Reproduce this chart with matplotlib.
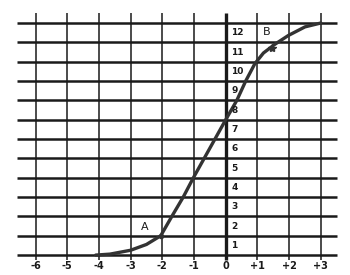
#!/usr/bin/env python3
"""S-shaped curve on a hand-ruled grid, points A and B marked."""
import matplotlib
matplotlib.use("Agg")
import matplotlib.pyplot as plt

X_TICKS = [-6, -5, -4, -3, -2, -1, 0, 1, 2, 3]
X_LABELS = ["-6", "-5", "-4", "-3", "-2", "-1", "0", "+1", "+2", "+3"]
Y_LEVELS = list(range(0, 13))
Y_LABELS = [str(v) for v in range(1, 13)]

# curve
CURVE_X = [-4.1, -3.65, -3.0, -2.5, -2.05, -1.7, -1.34, -1.02, -0.68, -0.34,
           0.0, 0.35, 0.63, 0.92, 1.19, 1.55, 1.97, 2.5, 3.0]
CURVE_Y = [0.0, 0.05, 0.25, 0.55, 1.0, 2.0, 3.0, 4.0, 5.0, 6.0,
           7.0, 8.0, 9.0, 9.9, 10.45, 10.9, 11.35, 11.8, 12.0]

POINT_A = (-2.05, 1.0)
POINT_B = (1.45, 10.7)

INK = "#1a1a1a"


def main():
    fig = plt.figure(figsize=(3.5, 2.75), dpi=100)
    ax = fig.add_axes([0, 0, 1, 1])
    ax.set_xlim(-7.12, 3.92)
    ax.set_ylim(-1.03, 13.19)
    ax.axis("off")

    ax.hlines(Y_LEVELS, -6.58, 3.5, color=INK, linewidth=1.8)
    ax.vlines([x for x in X_TICKS if x != 0], -0.25, 12.5, color=INK, linewidth=1.1)
    ax.vlines([0], -0.25, 12.5, color=INK, linewidth=2.4)

    ax.plot(CURVE_X, CURVE_Y, color="#333333", linewidth=2.4,
            solid_capstyle="round", solid_joinstyle="round")
    ax.plot(*POINT_A, marker="o", color="#333333", markersize=3)
    ax.plot(*POINT_B, marker="*", color="#333333", markersize=6)

    for x, lab in zip(X_TICKS, X_LABELS):
        ax.text(x, -0.55, lab, ha="center", va="center", fontsize=7, fontweight="bold", color=INK)
    for v, lab in zip(Y_LEVELS[1:], Y_LABELS):
        ax.text(0.17, v - 0.5, lab, ha="left", va="center", fontsize=6.5, fontweight="bold", color=INK)

    ax.text(-2.55, 1.45, "A", ha="center", va="center", fontsize=8, color=INK)
    ax.text(1.3, 11.55, "B", ha="center", va="center", fontsize=8, color=INK)

    fig.savefig("out.png", dpi=100)


if __name__ == "__main__":
    main()
